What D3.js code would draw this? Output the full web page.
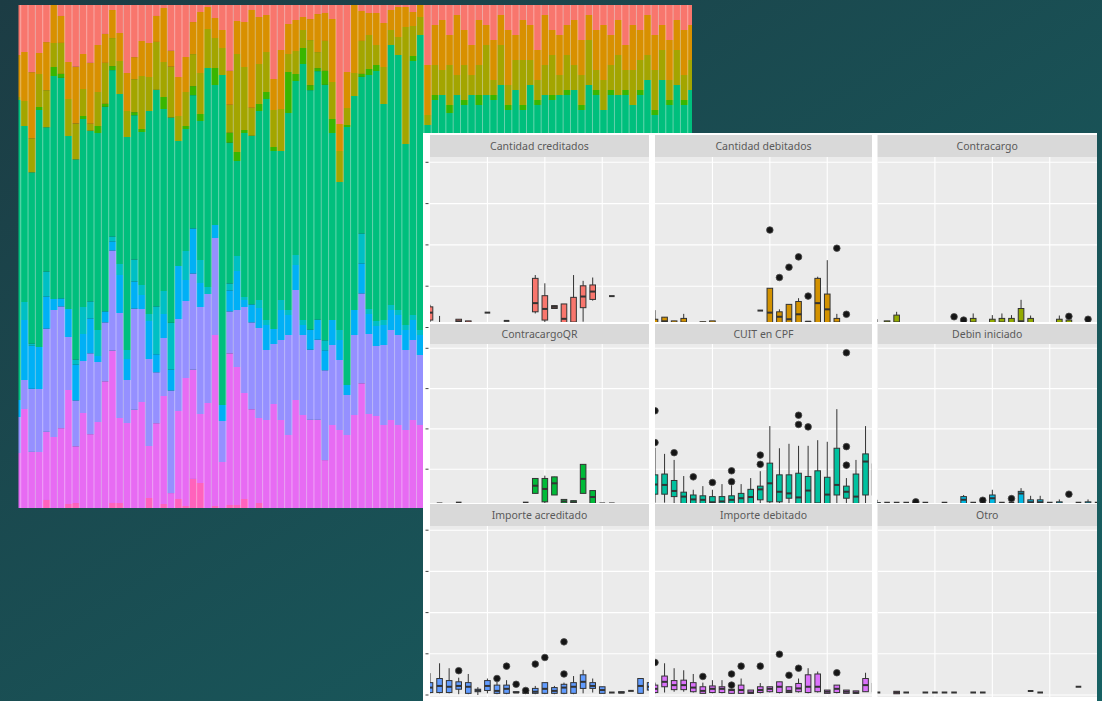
<!DOCTYPE html>
<html>
<head>
<meta charset="utf-8">
<script src="https://cdn.jsdelivr.net/npm/d3@7"></script>
<style>
  body { margin: 0; overflow: hidden; }
</style>
</head>
<body>
<script>

// ---- stacked share chart (monthly share of each type) ----
var months = d3.timeMonth.range(new Date(2014, 0, 1), new Date(2021, 9, 1));

var barKeys = ['Cantidad creditados', 'Cantidad debitados', 'Contracargo', 'ContracargoQR', 'CUIT en CPF',
               'Debin iniciado', 'Debin rechazado', 'Importe acreditado', 'Importe debitado', 'Otro'];
var barColors = ['#F8766D', '#D89000', '#A3A500', '#39B600', '#00BF7D',
                 '#00BFC4', '#00B0F6', '#9590FF', '#E76BF3', '#FF62BC'];

var shareCredCant = [50,47,67,48,37,0,11,57,62,49, 58,40,29,5,28,68,52,36,38,11, 3,46,72,52,17,7,2,13,25,66,
                     16,17,5,12,10,74,45,19,15,12, 14,9,8,14,119,67,0,6,8,8, 18,5,2,2,7,0,60,20,15,30,
                     10,25,40,15,20,35,10,25,30,15, 20,45,10,25,30,20,15,35,10,25, 20,30,15,40,20,25,10,30,20,35, 15,25,20];
var shareDebCant  = [42,49,66,21,48,38,27,37,57,35, 61,47,29,28,28,38,22,35,34,26, 54,16,39,35,32,61,22,20,18,34,
                     33,45,98,47,37,31,59,30,31,13, 21,38,28,63,27,36,68,30,22,32, 44,20,30,20,14,12,50,40,50,30,
                     60,35,30,45,20,40,30,55,25,40, 35,30,50,25,40,30,45,35,25,40, 55,30,35,25,45,30,40,35,25,40, 30,45,35];
var shareContra   = [3,25,34,33,37,24,31,37,36,27, 7,34,41,28,33,26,33,53,34,48, 35,51,25,34,32,41,39,30,27,28,
                     98,63,28,40,40,37,42,18,23,18, 45,16,30,37,31,17,23,33,34,20, 37,15,18,117,30,18,10,30,25,40,
                     20,35,20,30,50,15,40,20,30,45, 25,20,30,40,20,35,25,30,45,20, 30,25,40,20,35,30,25,40,30,20, 35,25,30];
var shareContraQR = [0,0,0,3,0,9,4,0,0,3, 0,7,3,4,0,0,3,3,0,0, 12,0,0,3,9,7,0,17,0,10,
                     9,3,0,7,7,4,0,41,7,16, 5,3,14,14,0,2,0,3,6,6, 0,0,0,0,5,0,0,5,0,8,
                     0,5,0,10,0,5,0,5,0,5, 0,5,0,5,0,5,0,5,0,5, 0,5,0,5,0,5,0,5,0,5, 0,5,0];
var shareCuit     = [300,176,171,237,144,223,221,173,201,188, 171,197,205,166,170,213,144,153,203,217, 182,206,125,122,133,139,219,140,330,141,
                     95,164,169,189,221,178,149,197,174,256, 239,248,256,187,148,258,214,157,234,250, 216,260,255,181,254,295,200,230,235,220,
                     240,230,240,230,240,235,250,225,245,225, 250,230,240,235,240,240,245,225,250,240, 225,240,240,240,230,240,255,220,255,230, 250,230,245];
var shareDebin    = [0,18,2,0,25,0,0,0,5,27, 17,26,0,5,11,9,22,10,7,48, 23,47,0,29,0,23,7,0,0,7,
                     15,3,0,8,5,0,10,5,10,5, 0,0,10,0,10,0,0,30,5,5, 5,5,5,5,5,5,5,5,5,5,
                     5,5,5,5,5,5,5,5,5,5, 5,5,5,5,5,5,5,5,5,5, 5,5,5,5,5,5,5,5,5,5, 5,5,5];
var shareDebinRech= [17,60,43,42,32,11,8,28,36,27, 35,6,11,9,38,21,27,14,38,18, 24,21,53,21,45,24,0,13,16,21,
                     39,7,18,20,25,15,30,20,25,10, 20,20,20,25,20,10,25,30,20,20, 20,20,20,20,20,20,20,20,20,20,
                     20,20,20,20,20,20,20,20,20,20, 20,20,20,20,20,20,20,20,20,20, 20,20,20,20,20,20,20,20,20,20, 20,20,20];
var shareCredImp  = [36,29,63,63,103,127,122,53,46,52, 81,60,59,100,105,43,101,93,87,51, 58,103,92,77,96,107,109,97,41,42,
                     57,86,87,90,70,60,80,100,110,80, 70,80,90,80,70,40,80,90,80,70, 80,90,90,80,80,70,80,80,80,80,
                     80,80,80,80,80,80,80,80,80,80, 80,80,80,80,80,80,80,80,80,80, 80,80,80,80,80,80,80,80,80,80, 80,80,80];
var shareDebImp   = [55,99,56,56,68,71,80,114,57,95, 74,86,127,152,85,85,98,106,52,85, 108,15,88,128,109,69,105,171,46,152,
                     138,106,99,85,88,104,88,73,108,93, 88,88,48,83,78,73,93,125,94,92, 83,88,83,78,88,83,78,73,73,70,
                     68,68,68,68,68,68,68,68,68,68, 68,68,68,68,68,68,68,68,68,68, 68,68,68,68,68,68,68,68,68,68, 68,68,68];
var shareOtro     = [0,0,0,0,8,0,0,4,5,0, 0,0,0,5,5,0,0,0,10,0, 4,0,9,2,29,25,0,2,0,3,
                     3,9,0,5,0,0,0,0,0,0, 0,0,0,0,0,0,0,0,0,0, 0,0,0,0,0,0,0,0,0,0,
                     0,0,0,0,0,0,0,0,0,0, 0,0,0,0,0,0,0,0,0,0, 0,0,0,0,0,0,0,0,0,0, 0,0,0];

var barSeries = [shareCredCant, shareDebCant, shareContra, shareContraQR, shareCuit,
                 shareDebin, shareDebinRech, shareCredImp, shareDebImp, shareOtro];

// ---- boxplot facets: [month index, lower whisker, q1, median, q3, upper whisker] ----
var facetNames = ['Cantidad creditados', 'Cantidad debitados', 'Contracargo',
                  'ContracargoQR', 'CUIT en CPF', 'Debin iniciado',
                  'Importe acreditado', 'Importe debitado', 'Otro'];
var facetColors = ['#F8766D', '#D39200', '#93AA00', '#00BA38', '#00C19F', '#00B9E3', '#619CFF', '#DB72FB', '#FF61C3'];

var boxCredCant = [[0,0.1,0.18,0.36,0.5,0.55],[1,0,0.02,0.08,0.12,0.28],[3,0,0.05,0.15,0.2,0.2],[4,0,0.05,0.12,0.16,0.16],
                   [6,0.36,0.36,0.36,0.36,0.36],[8,0.16,0.16,0.16,0.16,0.16],[11,0.34,0.38,0.59,1.19,1.27],[12,0.05,0.18,0.45,0.77,1.07],
                   [13,0.46,0.46,0.5,0.53,0.53],[14,0,0.05,0.21,0.57,0.57],[15,0,0.05,0.12,0.73,1.27],[16,0.14,0.48,0.75,1.01,1.13],
                   [17,0.65,0.68,0.87,1.03,1.21],[18,0.08,0.08,0.08,0.08,0.08],[19,0.76,0.76,0.76,0.76,0.76]];
var outCredCant = [];

var boxDebCant = [[0,0,0.05,0.1,0.2,0.42],[1,0,0.05,0.15,0.25,0.25],[2,0,0.05,0.1,0.16,0.16],[3,0,0.05,0.12,0.22,0.33],
                  [4,0.08,0.08,0.08,0.08,0.08],[5,0,0.05,0.1,0.14,0.14],[6,0,0.05,0.1,0.16,0.16],[11,0.41,0.41,0.41,0.41,0.41],
                  [12,0,0.05,0.36,0.95,0.95],[13,0,0.05,0.26,0.38,0.44],[14,0,0.05,0.2,0.56,0.56],[15,0,0.05,0.32,0.63,0.71],
                  [16,0.12,0.12,0.14,0.14,0.14],[17,0,0.05,0.59,1.19,1.23],[18,0,0.05,0.44,0.81,1.63],[19,0,0.05,0.12,0.22,0.33],
                  [20,0.08,0.08,0.08,0.08,0.08],[21,0.08,0.08,0.08,0.08,0.08],[23,0.15,0.15,0.15,0.15,0.15]];
var outDebCant = [[12,2.36],[13,1.21],[14,1.46],[15,1.71],[16,0.76],[19,1.92],[20,0.32]];

var boxContra = [[0,0.03,0.03,0.05,0.08,0.2],[1,0.12,0.12,0.12,0.16,0.16],[2,0,0.03,0.12,0.3,0.38],[3,0.03,0.03,0.03,0.03,0.03],
                 [5,0.03,0.03,0.03,0.03,0.03],[8,0,0.02,0.05,0.1,0.12],[9,0,0.02,0.05,0.12,0.12],[10,0,0.03,0.12,0.22,0.34],
                 [11,0.03,0.03,0.03,0.03,0.03],[12,0,0.03,0.1,0.2,0.3],[13,0,0.03,0.12,0.22,0.34],[14,0,0.03,0.1,0.22,0.3],
                 [15,0,0.03,0.15,0.46,0.67],[16,0,0.03,0.1,0.22,0.29],[17,0.03,0.03,0.03,0.03,0.03],[18,0.03,0.03,0.03,0.03,0.03],
                 [19,0,0.03,0.1,0.2,0.29],[20,0,0.03,0.08,0.18,0.18],[21,0.03,0.03,0.03,0.03,0.03],[22,0,0.02,0.05,0.08,0.1]];
var outContra = [[8,0.26],[9,0.18],[20,0.27],[22,0.2]];

var boxContraQR = [[1,0.15,0.15,0.15,0.15,0.15],[3,0.17,0.17,0.17,0.17,0.17],[10,0.17,0.17,0.17,0.17,0.17],
                   [11,0.4,0.4,0.59,0.77,0.77],[12,0.1,0.19,0.51,0.77,0.84],[13,0.36,0.36,0.65,0.81,0.81],
                   [14,0.1,0.12,0.2,0.25,0.25],[15,0.1,0.12,0.18,0.22,0.22],[16,0.4,0.4,0.76,1.12,1.12],
                   [17,0.1,0.15,0.31,0.47,0.47],[18,0.15,0.15,0.15,0.15,0.15],[19,0.15,0.15,0.15,0.15,0.15]];
var outContraQR = [];

var boxCuit = [[0,0.17,0.38,0.62,0.86,1.53],[1,0.17,0.38,0.61,0.88,1.38],[2,0.15,0.32,0.46,0.72,1.23],[3,0.1,0.12,0.32,0.43,0.83],
               [4,0.1,0.12,0.25,0.36,0.49],[5,0.1,0.12,0.24,0.34,0.58],[6,0.1,0.12,0.18,0.32,0.49],[7,0.1,0.12,0.2,0.32,0.63],
               [8,0.1,0.12,0.24,0.34,0.6],[9,0.1,0.12,0.28,0.4,0.63],[10,0.1,0.12,0.31,0.5,0.78],[11,0.1,0.24,0.5,0.58,0.95],
               [12,0.1,0.19,0.65,1.15,2.07],[13,0.1,0.19,0.44,0.86,1.52],[14,0.15,0.28,0.4,0.86,1.63],[15,0.1,0.12,0.3,0.9,1.58],
               [16,0.1,0.12,0.47,0.82,1.58],[17,0.1,0.12,0.15,0.96,1.72],[18,0.1,0.12,0.37,0.8,1.68],[19,0.1,0.36,0.61,1.52,2.49],
               [20,0.15,0.28,0.44,0.58,0.78],[21,0.1,0.12,0.32,0.88,1.23],[22,0.1,0.36,1.19,1.38,2.07],[23,0.1,0.36,0.8,1.13,1.3]];
var outCuit = [[0,2.45],[0,1.66],[2,1.41],[4,0.81],[6,0.67],[8,0.96],[8,0.69],[11,1.12],[11,1.35],
               [15,2.34],[15,2.11],[16,2.05],[20,3.89],[20,1.56],[20,1.1]];

var boxDebin = [[0,0.1,0.12,0.15,0.17,0.24],[1,0.17,0.17,0.17,0.17,0.17],[2,0.17,0.17,0.17,0.17,0.17],[3,0.17,0.17,0.17,0.17,0.17],
                [4,0.1,0.12,0.15,0.17,0.17],[5,0.17,0.17,0.17,0.17,0.17],[7,0.17,0.17,0.17,0.17,0.17],[9,0.1,0.12,0.24,0.32,0.36],
                [10,0.17,0.17,0.17,0.17,0.17],[11,0.17,0.17,0.17,0.17,0.17],[12,0.1,0.12,0.28,0.36,0.49],[13,0.17,0.17,0.17,0.17,0.17],
                [14,0.17,0.17,0.17,0.17,0.17],[15,0.1,0.12,0.4,0.45,0.53],[16,0.1,0.12,0.18,0.24,0.34],[17,0.1,0.12,0.18,0.24,0.34],
                [18,0.17,0.17,0.17,0.17,0.17],[19,0.1,0.12,0.15,0.19,0.25],[21,0.17,0.17,0.17,0.17,0.17],[22,0.1,0.12,0.15,0.19,0.25],
                [23,0.17,0.17,0.17,0.17,0.17]];
var outDebin = [[4,0.19],[11,0.23],[14,0.27],[20,0.38]];

var boxCredImp = [[0,0.04,0.06,0.18,0.3,0.53],[1,0.04,0.06,0.22,0.4,0.77],[2,0.04,0.06,0.2,0.35,0.65],[3,0.02,0.14,0.22,0.32,0.42],
                  [4,0.02,0.04,0.2,0.3,0.51],[5,0,0.08,0.11,0.14,0.19],[6,0.04,0.11,0.22,0.35,0.4],[7,0.02,0.04,0.1,0.24,0.32],
                  [8,0.02,0.04,0.15,0.24,0.36],[9,0.06,0.06,0.06,0.08,0.08],[10,0.04,0.04,0.05,0.06,0.06],[11,0.02,0.04,0.08,0.16,0.22],
                  [12,0.02,0.04,0.15,0.3,0.3],[13,0.02,0.04,0.1,0.18,0.22],[14,0.02,0.04,0.18,0.26,0.3],[15,0.02,0.04,0.2,0.3,0.46],
                  [16,0.04,0.16,0.32,0.49,0.61],[17,0.06,0.16,0.22,0.3,0.4],[18,0.04,0.04,0.12,0.2,0.2],[19,0.06,0.06,0.06,0.06,0.06],
                  [20,0.05,0.05,0.06,0.08,0.08],[21,0.1,0.1,0.1,0.1,0.1],[22,0.04,0.04,0.22,0.4,0.4],[23,0.08,0.12,0.2,0.3,0.4]];
var outCredImp = [[3,0.59],[7,0.4],[8,0.7],[9,0.26],[10,0.11],[11,0.75],[12,0.91],[14,1.29],[14,0.51]];

var boxDebImp = [[0,0.04,0.06,0.15,0.24,0.3],[1,0.06,0.2,0.32,0.46,0.77],[2,0.08,0.13,0.24,0.35,0.65],[3,0.08,0.13,0.24,0.36,0.6],
                 [4,0.06,0.08,0.18,0.3,0.51],[5,0.04,0.04,0.1,0.2,0.3],[6,0.04,0.06,0.15,0.22,0.36],[7,0.04,0.06,0.15,0.2,0.36],
                 [8,0.04,0.04,0.12,0.14,0.14],[9,0.04,0.04,0.12,0.24,0.4],[10,0.04,0.04,0.06,0.12,0.12],[11,0.04,0.06,0.12,0.2,0.29],
                 [12,0.06,0.08,0.15,0.2,0.2],[13,0.04,0.06,0.2,0.32,0.32],[14,0.06,0.06,0.1,0.2,0.2],[15,0.06,0.08,0.16,0.28,0.4],
                 [16,0.04,0.06,0.2,0.49,0.65],[17,0.06,0.08,0.2,0.51,0.57],[18,0.04,0.04,0.08,0.12,0.12],[19,0.04,0.06,0.15,0.24,0.24],
                 [20,0.04,0.04,0.08,0.12,0.12],[21,0.04,0.04,0.06,0.1,0.1],[22,0.08,0.08,0.24,0.4,0.54],[23,0.08,0.08,0.15,0.28,0.28]];
var outDebImp = [[0,0.79],[5,0.45],[8,0.51],[8,0.24],[9,0.7],[11,0.7],[13,0.99],[14,0.48],[15,0.65],[19,0.54]];

var boxOtro = [[0,0.06,0.06,0.06,0.06,0.06],[2,0.03,0.03,0.06,0.09,0.09],[3,0.06,0.06,0.06,0.06,0.06],[5,0.06,0.06,0.06,0.06,0.06],
               [6,0.06,0.06,0.06,0.06,0.06],[7,0.06,0.06,0.06,0.06,0.06],[8,0.06,0.06,0.06,0.06,0.06],[10,0.06,0.06,0.06,0.06,0.06],
               [11,0.06,0.06,0.06,0.06,0.06],[16,0.1,0.1,0.1,0.1,0.1],[17,0.06,0.06,0.06,0.06,0.06],[21,0.2,0.2,0.2,0.2,0.2]];
var outOtro = [];

var facetBoxes = [boxCredCant, boxDebCant, boxContra, boxContraQR, boxCuit, boxDebin, boxCredImp, boxDebImp, boxOtro];
var facetOut   = [outCredCant, outDebCant, outContra, outContraQR, outCuit, outDebin, outCredImp, outDebImp, outOtro];
var gridValues = [0, 1, 2, 3, 4];


var svg = d3.select('body').append('svg')
            .attr('width', 1102)
            .attr('height', 701);

var defs = svg.append('defs');

var grad = defs.append('linearGradient')
               .attr('id', 'bg-grad')
               .attr('x1', 0).attr('y1', 0).attr('x2', 1).attr('y2', 1);
grad.append('stop').attr('offset', '0%').attr('stop-color', '#1c3c44');
grad.append('stop').attr('offset', '100%').attr('stop-color', '#176163');

svg.append('rect')
   .attr('width', 1102)
   .attr('height', 701)
   .attr('fill', 'url(#bg-grad)');

// ---------- stacked bars ----------
var rows = months.map((m, i) => {
  var r = {month: i};
  barKeys.forEach((k, s) => r[k] = barSeries[s][i]);
  return r;
});

var stacked = d3.stack()
                .keys(barKeys.slice().reverse())
                .offset(d3.stackOffsetExpand)(rows);

var color_of = d3.scaleOrdinal(barKeys, barColors);

var x_bar = d3.scaleBand().domain(d3.range(months.length)).range([13.4, 13.4 + 7.33 * months.length]);
var y_bar = d3.scaleLinear().domain([0, 1]).range([508, 5]);

defs.append('clipPath').attr('id', 'bar-clip')
    .append('rect').attr('x', 18.5).attr('y', 5).attr('width', 673.5).attr('height', 503);

var bars = svg.append('g').attr('clip-path', 'url(#bar-clip)');

bars.selectAll('g')
    .data(stacked)
    .enter()
    .append('g')
    .attr('fill', d => color_of(d.key))
    .selectAll('rect')
    .data(d => d)
    .enter()
    .append('rect')
    .attr('x', d => x_bar(d.data.month))
    .attr('width', x_bar.bandwidth() + 0.3)
    .attr('y', d => y_bar(d[1]))
    .attr('height', d => Math.max(0, y_bar(d[0]) - y_bar(d[1])));

bars.selectAll('line.sep')
    .data(d3.range(1, months.length))
    .enter()
    .append('line')
    .attr('class', 'sep')
    .attr('x1', i => x_bar(i)).attr('x2', i => x_bar(i))
    .attr('y1', 5).attr('y2', 508)
    .attr('stroke', 'rgba(255,255,255,0.4)')
    .attr('stroke-width', 1);

// ---------- facet boxplots ----------
var colLeft = [430, 655, 877.5];
var colWidth = [219, 217, 219.5];
var stripTop = [135, 324, 504];
var stripBottom = [157, 344, 526];
var plotBottom = [322, 503, 697];
var zeroY = [327.5, 509.5, 695];
var stepY = [41.3, 40.3, 41.2];
var monthStep = 9.57;
var boxW = 5.6;

svg.append('rect')
   .attr('x', 423).attr('y', 133)
   .attr('width', 674).attr('height', 568)
   .attr('fill', '#ffffff');

facetNames.forEach((name, f) => {
  var r = Math.floor(f / 3), c = f % 3;
  var left = colLeft[c], w = colWidth[c];
  var top = stripBottom[r], bottom = plotBottom[r];

  var x = d3.scaleLinear().domain([0, 1]).range([left, left + monthStep]);
  var y = d3.scaleLinear().domain([0, 1]).range([zeroY[r], zeroY[r] - stepY[r]]);

  var g = svg.append('g');

  g.append('rect')
   .attr('x', left).attr('y', stripTop[r])
   .attr('width', w).attr('height', stripBottom[r] - stripTop[r])
   .attr('fill', '#d9d9d9');

  g.append('text')
   .text(name)
   .attr('x', left + w / 2)
   .attr('y', (stripTop[r] + stripBottom[r]) / 2 + 4)
   .attr('text-anchor', 'middle')
   .attr('font-family', 'Noto Sans, sans-serif')
   .attr('font-size', 10.5)
   .attr('fill', '#5a5a5a');

  g.append('rect')
   .attr('x', left).attr('y', top)
   .attr('width', w).attr('height', bottom - top)
   .attr('fill', '#ebebeb');

  var clipId = 'facet-clip-' + f;
  defs.append('clipPath').attr('id', clipId)
      .append('rect').attr('x', left).attr('y', top).attr('width', w).attr('height', bottom - top);

  var p = g.append('g').attr('clip-path', 'url(#' + clipId + ')');

  p.selectAll('line.hgrid')
   .data(gridValues)
   .enter()
   .append('line')
   .attr('x1', left).attr('x2', left + w)
   .attr('y1', d => y(d)).attr('y2', d => y(d))
   .attr('stroke', '#ffffff').attr('stroke-width', 1.1);

  p.selectAll('line.vgrid')
   .data([6, 12, 18])
   .enter()
   .append('line')
   .attr('x1', d => x(d)).attr('x2', d => x(d))
   .attr('y1', top).attr('y2', bottom)
   .attr('stroke', '#ffffff').attr('stroke-width', 1.1);

  var boxes = p.selectAll('g.box')
               .data(facetBoxes[f])
               .enter()
               .append('g');

  boxes.append('line')
       .attr('x1', d => x(d[0])).attr('x2', d => x(d[0]))
       .attr('y1', d => y(d[1])).attr('y2', d => y(d[5]))
       .attr('stroke', '#333333').attr('stroke-width', 1);

  boxes.append('rect')
       .attr('x', d => x(d[0]) - boxW / 2)
       .attr('width', boxW)
       .attr('y', d => y(d[4]))
       .attr('height', d => y(d[2]) - y(d[4]))
       .attr('fill', facetColors[f])
       .attr('stroke', '#333333').attr('stroke-width', 1);

  boxes.append('line')
       .attr('x1', d => x(d[0]) - boxW / 2).attr('x2', d => x(d[0]) + boxW / 2)
       .attr('y1', d => y(d[3])).attr('y2', d => y(d[3]))
       .attr('stroke', '#333333').attr('stroke-width', 2);

  p.selectAll('circle')
   .data(facetOut[f])
   .enter()
   .append('circle')
   .attr('cx', d => x(d[0]))
   .attr('cy', d => y(d[1]))
   .attr('r', 3.3)
   .attr('fill', '#151515')
   .attr('stroke', '#4a4a4a').attr('stroke-width', 0.8);

  if (c === 0)
  {
    g.selectAll('line.tick')
     .data(gridValues.filter(v => y(v) > top && y(v) < bottom + 6))
     .enter()
     .append('line')
     .attr('x1', 425.5).attr('x2', 428.5)
     .attr('y1', d => y(d)).attr('y2', d => y(d))
     .attr('stroke', '#444444').attr('stroke-width', 1);
  }
});

</script>
</body>
</html>
